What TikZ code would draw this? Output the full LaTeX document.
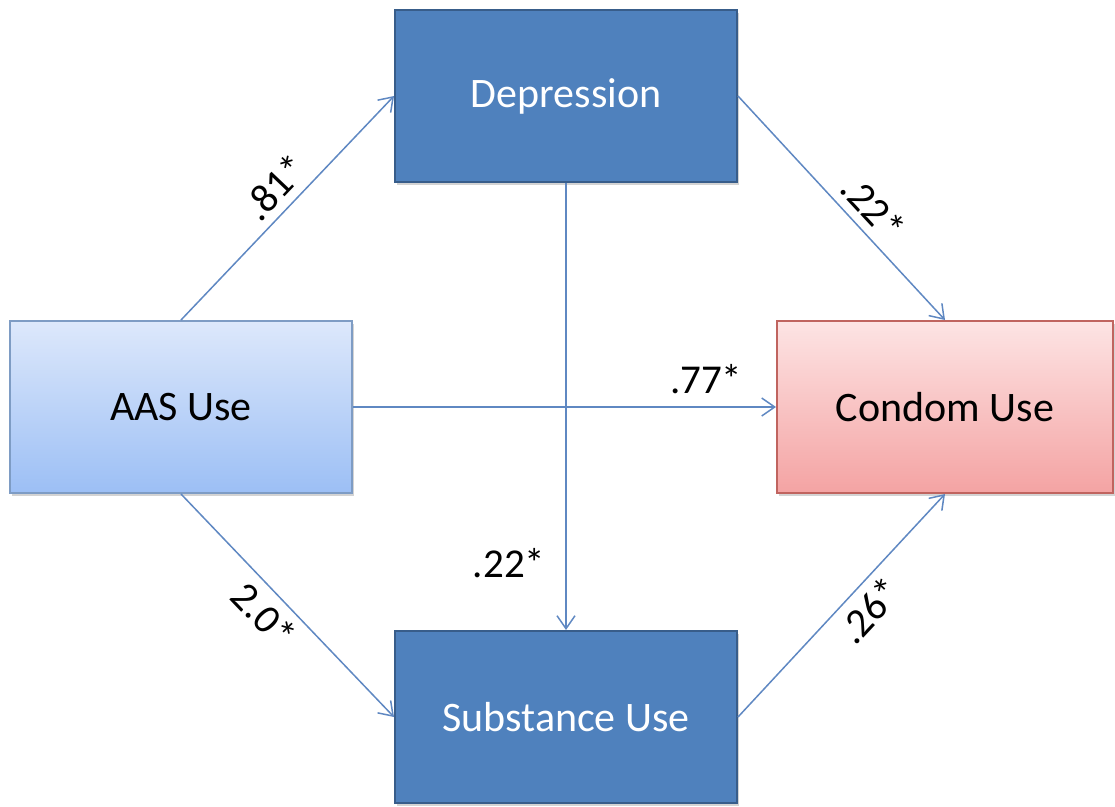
\documentclass[tikz,border=0pt]{standalone}
\usepackage{fontspec}
\setmainfont{Carlito}
\usepackage{xcolor}
\usetikzlibrary{arrows.meta, positioning, calc, shadows}

\definecolor{boxblue}{HTML}{4F81BD}
\definecolor{boxblueline}{HTML}{385D8A}
\definecolor{aastop}{HTML}{DDE8FB}
\definecolor{aasbottom}{HTML}{9CBFF5}
\definecolor{aasline}{HTML}{7E9CC4}
\definecolor{condomtop}{HTML}{FDE4E4}
\definecolor{condombottom}{HTML}{F4A3A3}
\definecolor{condomline}{HTML}{C0645F}
\definecolor{linkcol}{HTML}{5F88C2}

\begin{document}
\begin{tikzpicture}[x=1pt, y=-1pt,
    every node/.style={font=\fontsize{42}{46}\selectfont},
    box/.style={rectangle, minimum width=342pt, minimum height=172pt, inner sep=0pt,
        line width=2pt, drop shadow={opacity=0.35, shadow xshift=2pt, shadow yshift=-3pt}},
    midbox/.style={box, draw=boxblueline, fill=boxblue, text=white},
    aasbox/.style={box, draw=aasline, top color=aastop, bottom color=aasbottom},
    condombox/.style={box, draw=condomline, top color=condomtop, bottom color=condombottom},
    link/.style={draw=linkcol, line width=1.5pt, -{Straight Barb[length=13pt, width=18pt]}},
    weight/.style={inner sep=4pt, text=black, font=\fontsize{41}{45}\selectfont}]

    \useasboundingbox (0,0) rectangle (1115,806);

    % boxes
    \node[midbox] (dep) at (566,96) {Depression};
    \node[aasbox] (aas) at (181,407) {AAS Use};
    \node[condombox, minimum width=336pt] (condom) at (945,407) {Condom Use};
    \node[midbox] (sub) at (566,717) {Substance Use};

    % paths
    \draw[link] (aas.north) -- (dep.west)
        node[weight, sloped, above, pos=0.52, yshift=4pt] {.81*};
    \draw[link] (dep.east) -- (condom.north)
        node[weight, sloped, above, pos=0.57, yshift=4pt] {.22*};
    \draw[link] (aas.east) -- (condom.west)
        node[weight, above, pos=0.835, yshift=8pt] {.77*};
    \draw[link] (dep.south) -- (sub.north)
        node[weight, left, pos=0.85, xshift=-16pt] {.22*};
    \draw[link] (aas.south) -- (sub.west)
        node[weight, sloped, below, pos=0.47, yshift=-4pt] {2.0*};
    \draw[link] (sub.east) -- (condom.south)
        node[weight, sloped, below, pos=0.55, yshift=-4pt] {.26*};
\end{tikzpicture}
\end{document}
